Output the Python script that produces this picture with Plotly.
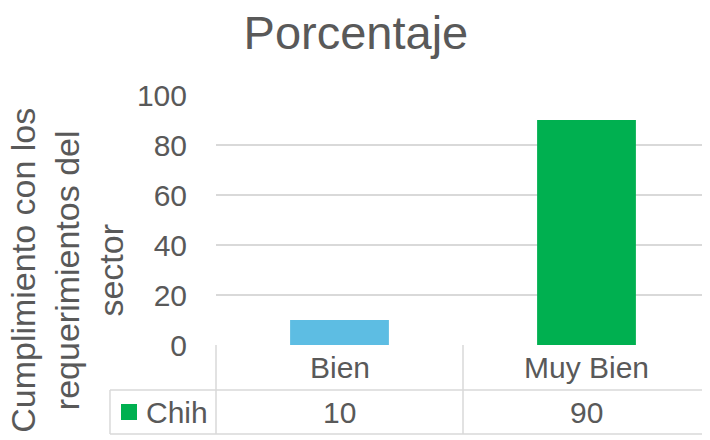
import plotly.graph_objects as go

# datos
categorias = ["Bien", "Muy Bien"]
valores = [10, 90]
serie = "Chih"
colores = ["#5DBDE3", "#00B050"]
ticks_y = [0, 20, 40, 60, 80, 100]

GRIS_TEXTO = "#595959"
GRIS_LINEA = "#D9D9D9"
FUENTE = "Liberation Sans, Arial, sans-serif"

fig = go.Figure()
fig.add_trace(
    go.Bar(
        x=categorias,
        y=valores,
        name=serie,
        marker={"color": colores, "line": {"width": 0}},
        width=0.4,
        showlegend=False,
    )
)

# tabla de datos bajo el eje (estilo Excel)
y_fila1 = -0.18
y_fila2 = -0.356
x_leyenda = -0.2146
linea = {"color": GRIS_LINEA, "width": 1.5}
formas = [
    # horizontales
    dict(type="line", xref="paper", yref="paper", x0=x_leyenda, x1=1, y0=y_fila1, y1=y_fila1, line=linea),
    dict(type="line", xref="paper", yref="paper", x0=x_leyenda, x1=1, y0=y_fila2, y1=y_fila2, line=linea),
    # verticales
    dict(type="line", xref="paper", yref="paper", x0=0, x1=0, y0=0, y1=y_fila2, line=linea),
    dict(type="line", xref="x", yref="paper", x0=0.5, x1=0.5, y0=0, y1=y_fila2, line=linea),
    dict(type="line", xref="paper", yref="paper", x0=x_leyenda, x1=x_leyenda, y0=y_fila1, y1=y_fila2, line=linea),
    # clave de la leyenda
    dict(type="rect", xref="paper", yref="paper", x0=-0.1923, x1=-0.1599, y0=-0.236, y1=-0.3,
         fillcolor=colores[1], line={"width": 0}),
]

anotaciones = []
for cat, val in zip(categorias, valores):
    anotaciones.append(dict(x=cat, xref="x", y=-0.09, yref="paper", text=cat,
                            showarrow=False, xanchor="center", yanchor="middle"))
    anotaciones.append(dict(x=cat, xref="x", y=-0.268, yref="paper", text=str(val),
                            showarrow=False, xanchor="center", yanchor="middle"))
anotaciones.append(dict(x=-0.1457, xref="paper", y=-0.268, yref="paper", text=serie,
                        showarrow=False, xanchor="left", yanchor="middle"))
anotaciones.append(dict(
    x=-0.302, xref="paper", y=0.3, yref="paper",
    text="Cumplimiento con los<br>requerimientos del<br>sector",
    textangle=-90, showarrow=False, xanchor="center", yanchor="middle",
    font={"size": 34},
))

# la pagina desplaza el grafico 8 px (margen del body); se compensa en los margenes
fig.update_layout(
    width=710,
    height=440,
    margin={"l": 208, "r": 8, "t": 87, "b": 103},
    paper_bgcolor="white",
    plot_bgcolor="white",
    font={"family": FUENTE, "size": 30, "color": GRIS_TEXTO},
    title={
        "text": "Porcentaje",
        "x": 0.49,
        "xref": "container",
        "xanchor": "center",
        "y": 0.944,
        "yref": "container",
        "yanchor": "middle",
        "font": {"size": 47, "color": GRIS_TEXTO},
    },
    shapes=formas,
    annotations=anotaciones,
)
fig.update_xaxes(
    range=[-0.5, 1.5],
    showticklabels=False,
    showgrid=False,
    zeroline=False,
    showline=False,
    fixedrange=True,
)
fig.update_yaxes(
    range=[0, 100],
    tickvals=ticks_y,
    showgrid=True,
    gridcolor=GRIS_LINEA,
    gridwidth=1.5,
    zeroline=False,
    showline=False,
    ticks="outside",
    ticklen=22,
    tickcolor="rgba(0,0,0,0)",
    fixedrange=True,
)

fig.write_html("out.html")
